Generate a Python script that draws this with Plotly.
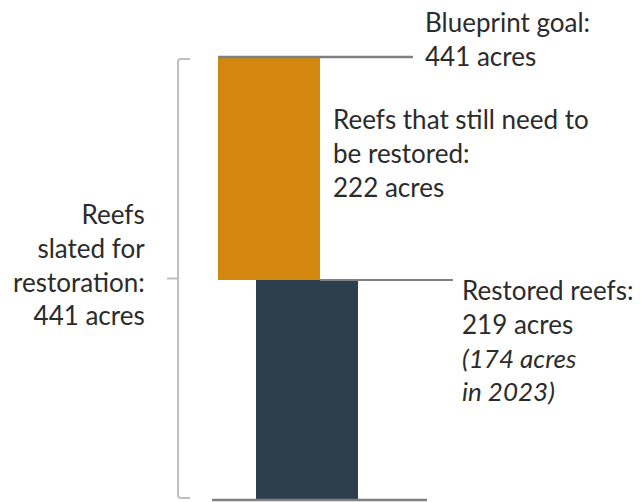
import plotly.graph_objects as go

# ---- data ----
categories = ["Reefs that still need to be restored", "Restored reefs"]
remaining_acres = 222
restored_acres = 219
restored_2023_acres = 174
goal_acres = 441

ORANGE = "#D4870F"
DARK = "#2D3E4D"
LINE = "#808080"
BRACKET = "#BFBFBF"
TEXT = "#2B2B2B"
FONT = "Lato"
FS = 26

W, H = 642, 502
# y scale: value 441 at pixel 57, value 0 at pixel 500
pix_per_unit = (500 - 57) / goal_acres
y_top = goal_acres + 57 / pix_per_unit
y_bot = -(H - 500) / pix_per_unit


def py(p):
    """convert a pixel row to data y"""
    return y_top - p / pix_per_unit


fig = go.Figure()
fig.add_trace(go.Bar(x=[269], y=[remaining_acres], base=[restored_acres], width=[102],
                     marker=dict(color=ORANGE, line=dict(width=0)), name=categories[0]))
fig.add_trace(go.Bar(x=[307], y=[restored_acres], base=[0], width=[102],
                     marker=dict(color=DARK, line=dict(width=0)), name=categories[1]))

total = remaining_acres + restored_acres
# horizontal leader lines
fig.add_shape(type="line", x0=218, x1=413, y0=total, y1=total, line=dict(color=LINE, width=2.5))
fig.add_shape(type="line", x0=320, x1=453, y0=restored_acres, y1=restored_acres, line=dict(color=LINE, width=2))
fig.add_shape(type="line", x0=212, x1=427, y0=0, y1=0, line=dict(color=LINE, width=2.5))

# bracket
bt = py(59)
bb = py(498)
bm = total / 2
r = 3 / pix_per_unit
path = (f"M 190,{bt} L 181,{bt} Q 178,{bt} 178,{bt - r} "
        f"L 178,{bb + r} Q 178,{bb} 181,{bb} L 190,{bb}")
fig.add_shape(type="path", path=path, line=dict(color=BRACKET, width=2))
fig.add_shape(type="line", x0=167, x1=178, y0=bm, y1=bm, line=dict(color=BRACKET, width=2))

fnt = dict(family=FONT, size=FS, color=TEXT)
fig.add_annotation(x=423, y=py(38.5), xanchor="left", yanchor="middle", align="left",
                   text=f"Blueprint goal:<br>{goal_acres} acres", showarrow=False, font=fnt)
fig.add_annotation(x=331, y=py(153), xanchor="left", yanchor="middle", align="left",
                   text=f"Reefs that still need to<br>be restored:<br>{remaining_acres} acres",
                   showarrow=False, font=fnt)
fig.add_annotation(x=147, y=py(264.5), xanchor="right", yanchor="middle", align="right",
                   text=f"Reefs<br>slated for<br>restoration:<br>{total} acres",
                   showarrow=False, font=fnt)
fig.add_annotation(x=460, y=py(340), xanchor="left", yanchor="middle", align="left",
                   text=(f"Restored reefs:<br>{restored_acres} acres<br>"
                         f"<i>({restored_2023_acres} acres</i><br><i>in 2023)</i>"),
                   showarrow=False, font=fnt)

fig.update_layout(
    width=W, height=H, margin=dict(l=0, r=0, t=0, b=0),
    paper_bgcolor="white", plot_bgcolor="white", showlegend=False, barmode="overlay",
    xaxis=dict(range=[0, W], visible=False, fixedrange=True),
    yaxis=dict(range=[y_bot, y_top], visible=False, fixedrange=True),
)
fig.write_html("out.html")
